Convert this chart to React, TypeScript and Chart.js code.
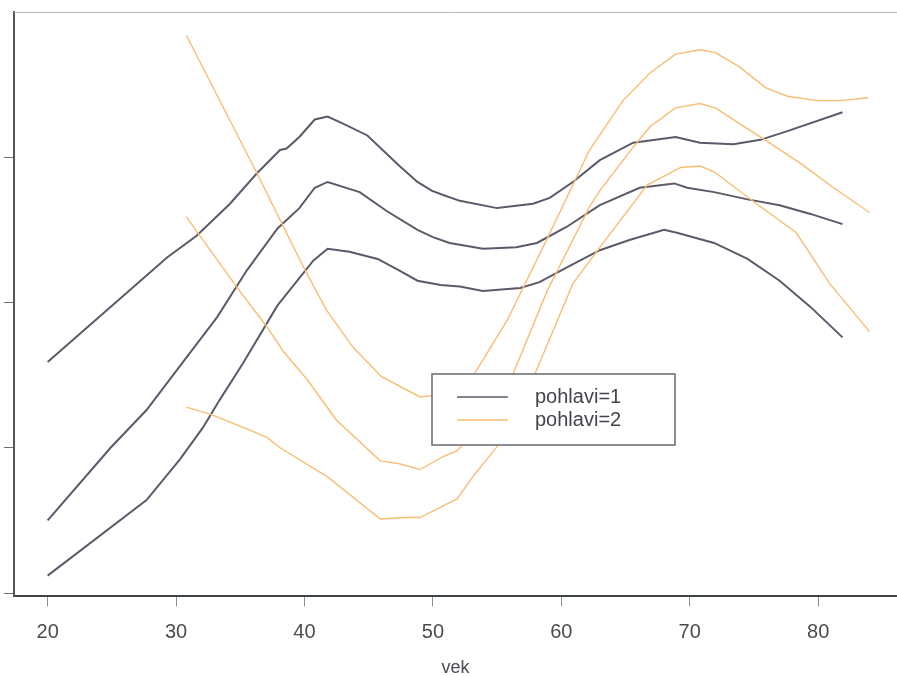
import React, { useEffect, useRef } from 'react';
import { Chart, registerables } from 'chart.js';

Chart.register(...registerables);

// ---- data ----
const xTicks = [20, 30, 40, 50, 60, 70, 80];
const yTicks = [0, 1, 2, 3];
const xTitle = 'vek';
const legendLabels = ['pohlavi=1', 'pohlavi=2'];

// pohlavi=1 (male): upper band, estimate, lower band
const m1HiAge = [20.0, 29.3, 31.6, 34.2, 36.3, 38.1, 38.6, 39.6, 40.8, 41.8, 42.8, 44.9, 47.4, 48.8, 49.9, 50.8, 52.1, 55.0, 57.8, 59.1, 60.9, 63.0, 65.6, 68.9, 70.8, 73.4, 75.5, 77.6, 81.9];
const m1HiVal = [1.59, 2.31, 2.46, 2.68, 2.89, 3.05, 3.06, 3.14, 3.26, 3.28, 3.24, 3.15, 2.94, 2.83, 2.77, 2.74, 2.70, 2.65, 2.68, 2.72, 2.83, 2.98, 3.10, 3.14, 3.10, 3.09, 3.12, 3.18, 3.31];

const m1MidAge = [20.0, 24.9, 27.7, 30.8, 33.2, 35.5, 37.9, 39.6, 40.8, 41.8, 44.3, 46.4, 48.8, 50.0, 51.3, 53.9, 56.5, 58.1, 60.4, 63.0, 66.1, 68.8, 69.8, 71.9, 74.5, 77.0, 79.4, 81.9];
const m1MidVal = [0.50, 1.00, 1.26, 1.62, 1.90, 2.22, 2.51, 2.65, 2.79, 2.83, 2.76, 2.63, 2.50, 2.45, 2.41, 2.37, 2.38, 2.41, 2.52, 2.67, 2.79, 2.82, 2.79, 2.76, 2.71, 2.67, 2.61, 2.54];

const m1LoAge = [20.0, 27.7, 30.3, 32.1, 33.4, 35.2, 37.9, 40.7, 41.8, 43.5, 45.7, 47.4, 48.8, 50.6, 52.1, 53.9, 56.8, 58.3, 60.4, 63.0, 65.3, 68.0, 69.0, 71.9, 74.5, 77.0, 79.4, 81.9];
const m1LoVal = [0.12, 0.64, 0.92, 1.14, 1.33, 1.58, 1.98, 2.29, 2.37, 2.35, 2.30, 2.22, 2.15, 2.12, 2.11, 2.08, 2.10, 2.14, 2.24, 2.36, 2.43, 2.50, 2.48, 2.41, 2.30, 2.15, 1.97, 1.76];

// pohlavi=2 (female): upper band, estimate, lower band
const f2HiAge = [30.8, 36.3, 40.0, 41.7, 43.8, 46.0, 49.0, 51.3, 53.1, 55.8, 58.9, 62.2, 64.8, 66.9, 68.9, 70.8, 72.0, 73.9, 75.9, 77.6, 79.9, 81.7, 83.9];
const f2HiVal = [3.84, 2.89, 2.23, 1.95, 1.69, 1.49, 1.35, 1.37, 1.49, 1.88, 2.44, 3.05, 3.39, 3.58, 3.71, 3.74, 3.72, 3.62, 3.48, 3.42, 3.39, 3.39, 3.41];

const f2MidAge = [30.8, 34.7, 37.1, 38.3, 40.2, 42.5, 45.9, 47.4, 49.0, 50.8, 51.9, 52.3, 54.3, 56.2, 58.9, 62.2, 63.0, 65.6, 66.9, 68.9, 70.8, 72.0, 73.9, 75.5, 78.6, 81.2, 84.0];
const f2MidVal = [2.59, 2.11, 1.83, 1.67, 1.47, 1.19, 0.91, 0.89, 0.85, 0.94, 0.98, 1.02, 1.26, 1.50, 2.08, 2.66, 2.77, 3.07, 3.21, 3.34, 3.37, 3.34, 3.23, 3.14, 2.96, 2.79, 2.62];

const f2LoAge = [30.8, 32.7, 35.8, 37.1, 38.1, 41.8, 45.9, 48.0, 49.0, 51.9, 53.1, 55.2, 56.6, 57.9, 60.9, 63.0, 66.7, 69.3, 70.8, 71.9, 75.2, 78.3, 80.9, 84.0];
const f2LoVal = [1.28, 1.23, 1.12, 1.07, 1.00, 0.80, 0.51, 0.52, 0.52, 0.65, 0.80, 1.03, 1.27, 1.50, 2.13, 2.38, 2.81, 2.93, 2.94, 2.90, 2.68, 2.48, 2.13, 1.80];

const MALE = '#5b5a6b';
const FEMALE = '#f8bd72';

const pts = (ax: number[], vy: number[]) => ax.map((x, i) => ({ x, y: vy[i] }));

const frameLegendPlugin = {
  id: 'frameLegend',
  afterDraw(chart: any) {
    const { ctx, chartArea } = chart;
    ctx.save();
    // top frame line
    ctx.strokeStyle = '#bdb5c3';
    ctx.lineWidth = 1;
    ctx.beginPath();
    ctx.moveTo(chartArea.left, chartArea.top + 0.5);
    ctx.lineTo(chartArea.right, chartArea.top + 0.5);
    ctx.stroke();

    // legend box
    const bx = 432, by = 374, bw = 243, bh = 71;
    ctx.fillStyle = '#ffffff';
    ctx.fillRect(bx, by, bw, bh);
    ctx.strokeStyle = '#6a6870';
    ctx.lineWidth = 1.5;
    ctx.strokeRect(bx, by, bw, bh);
    const colors = [MALE, FEMALE];
    const rows = [397, 420];
    ctx.font = '20px "Liberation Sans", Arial, sans-serif';
    ctx.textBaseline = 'middle';
    ctx.textAlign = 'left';
    legendLabels.forEach((lab, i) => {
      ctx.strokeStyle = colors[i];
      ctx.lineWidth = i === 0 ? 1.6 : 1.3;
      ctx.beginPath();
      ctx.moveTo(457, rows[i]);
      ctx.lineTo(508, rows[i]);
      ctx.stroke();
      ctx.fillStyle = '#45444c';
      ctx.fillText(lab, 535, rows[i]);
    });
    ctx.restore();
  },
};

export default function App() {
  const ref = useRef<HTMLCanvasElement | null>(null);
  useEffect(() => {
    if (!ref.current) return;
    const mk = (data: any, color: string, w: number) => ({
      data,
      borderColor: color,
      borderWidth: w,
      pointRadius: 0,
      tension: 0,
      fill: false,
    });
    const chart = new Chart(ref.current, {
      type: 'line',
      data: {
        datasets: [
          mk(pts(f2HiAge, f2HiVal), FEMALE, 1.4),
          mk(pts(f2MidAge, f2MidVal), FEMALE, 1.4),
          mk(pts(f2LoAge, f2LoVal), FEMALE, 1.4),
          mk(pts(m1HiAge, m1HiVal), MALE, 2),
          mk(pts(m1MidAge, m1MidVal), MALE, 2),
          mk(pts(m1LoAge, m1LoVal), MALE, 2),
        ],
      },
      options: {
        animation: false,
        responsive: false,
        devicePixelRatio: 1,
        parsing: false as any,
        layout: { padding: { left: 4, top: 12, right: 0, bottom: 0 } },
        plugins: { legend: { display: false }, tooltip: { enabled: false } },
        scales: {
          x: {
            type: 'linear',
            min: 17.38,
            max: 86.14,
            afterBuildTicks: (s: any) => { s.ticks = xTicks.map((v) => ({ value: v })); },
            ticks: {
              font: { family: '"Liberation Sans", Arial, sans-serif', size: 20 },
              color: '#4c4b52',
              padding: 14,
              maxRotation: 0,
              autoSkip: false,
            },
            grid: { drawOnChartArea: false, drawTicks: true, tickLength: 10, color: '#8c8f9c', lineWidth: 1 },
            border: { color: '#3d4640', width: 2 },
            title: {
              display: true,
              text: xTitle,
              font: { family: '"Liberation Sans", Arial, sans-serif', size: 18 },
              color: '#4c4b52',
              padding: { top: -1, bottom: -3 },
            },
          },
          y: {
            type: 'linear',
            min: -0.023,
            max: 4.0,
            afterBuildTicks: (s: any) => { s.ticks = yTicks.map((v) => ({ value: v })); },
            ticks: { display: false },
            grid: { drawOnChartArea: false, drawTicks: true, tickLength: 10, color: '#6e6d74', lineWidth: 1 },
            border: { color: '#55545a', width: 2 },
          },
        },
      },
      plugins: [frameLegendPlugin],
    });
    return () => chart.destroy();
  }, []);
  return (
    <div style={{ position: 'fixed', left: 0, top: 0, width: 897, height: 676, background: '#fff' }}>
      <canvas ref={ref} width={897} height={676} style={{ width: 897, height: 676, display: 'block' }} />
    </div>
  );
}
